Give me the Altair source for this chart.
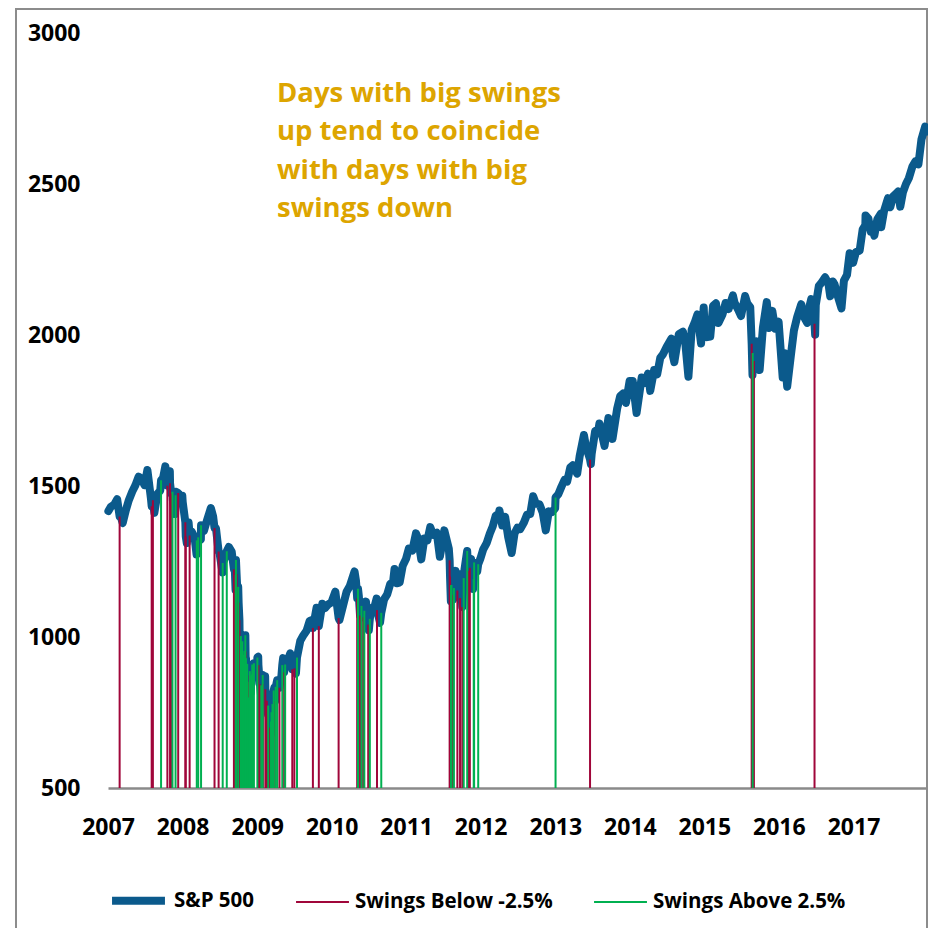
import altair as alt
import pandas as pd

# ---------------- data (read / estimated from the reference) ----------------
sp_dates = [
    "2007-01-03", "2007-01-15", "2007-01-31", "2007-02-15", "2007-02-28", "2007-03-14", "2007-03-30",
    "2007-04-13", "2007-04-30", "2007-05-15", "2007-05-31", "2007-06-14", "2007-06-29", "2007-07-13",
    "2007-07-26", "2007-07-31", "2007-08-16", "2007-08-31", "2007-09-14", "2007-09-28", "2007-10-09",
    "2007-10-31", "2007-11-15", "2007-11-26", "2007-11-30", "2007-12-14", "2007-12-31",
    "2008-01-02", "2008-01-22", "2008-01-31", "2008-02-15", "2008-02-29", "2008-03-10", "2008-03-31",
    "2008-04-15", "2008-04-30", "2008-05-19", "2008-05-30", "2008-06-13", "2008-06-30", "2008-07-15",
    "2008-07-31", "2008-08-15", "2008-08-29", "2008-09-12", "2008-10-10", "2008-10-27", "2008-10-31",
    "2008-11-28", "2008-12-15", "2008-12-31",
    "2009-01-06", "2009-01-15", "2009-01-30", "2009-02-09", "2009-02-27", "2009-03-09", "2009-03-26",
    "2009-03-31", "2009-04-15", "2009-04-30", "2009-05-08", "2009-05-29", "2009-06-12", "2009-06-30",
    "2009-07-10", "2009-07-31", "2009-08-14", "2009-08-31", "2009-09-15", "2009-09-30", "2009-10-19",
    "2009-11-16", "2009-11-30", "2009-12-15", "2009-12-31",
    "2010-01-19", "2010-02-08", "2010-02-26", "2010-03-15", "2010-03-31", "2010-04-23", "2010-04-30",
    "2010-05-14", "2010-05-25", "2010-05-31", "2010-06-18", "2010-07-02", "2010-07-15", "2010-07-30",
    "2010-08-09", "2010-08-26", "2010-09-15", "2010-09-30", "2010-10-15", "2010-10-29", "2010-11-05",
    "2010-11-16", "2010-11-30", "2010-12-15", "2010-12-31",
    "2011-01-14", "2011-01-31", "2011-02-18", "2011-02-28", "2011-03-16", "2011-03-31", "2011-04-15",
    "2011-04-29", "2011-05-13", "2011-05-31", "2011-06-15", "2011-06-30", "2011-07-07", "2011-07-29",
    "2011-08-19", "2011-08-31", "2011-09-15", "2011-09-30", "2011-10-14", "2011-11-15", "2011-11-25",
    "2011-12-15", "2011-12-30",
    "2012-01-13", "2012-01-31", "2012-02-15", "2012-02-29", "2012-03-15", "2012-03-30", "2012-04-02",
    "2012-04-16", "2012-04-30", "2012-05-15", "2012-06-01", "2012-06-15", "2012-06-29", "2012-07-13",
    "2012-07-31", "2012-08-15", "2012-08-31", "2012-09-14", "2012-09-28", "2012-10-15", "2012-10-31",
    "2012-11-15", "2012-11-30", "2012-12-14", "2012-12-31",
    "2013-01-15", "2013-01-31", "2013-02-15", "2013-02-28", "2013-03-15", "2013-03-28", "2013-04-18",
    "2013-04-30", "2013-05-21", "2013-05-31", "2013-06-24", "2013-06-28", "2013-07-15", "2013-07-31",
    "2013-08-05", "2013-08-30", "2013-09-18", "2013-09-30", "2013-10-08", "2013-10-31", "2013-11-15",
    "2013-11-29", "2013-12-13", "2013-12-31",
    "2014-01-15", "2014-02-03", "2014-02-28", "2014-03-14", "2014-03-31", "2014-04-11", "2014-04-30",
    "2014-05-15", "2014-05-30", "2014-06-13", "2014-06-30", "2014-07-24", "2014-07-31", "2014-08-07",
    "2014-08-29", "2014-09-18", "2014-09-30", "2014-10-15", "2014-10-31", "2014-11-14", "2014-11-28",
    "2014-12-16", "2014-12-29", "2014-12-31",
    "2015-01-15", "2015-01-30", "2015-02-13", "2015-02-27", "2015-03-11", "2015-03-31", "2015-04-15",
    "2015-04-30", "2015-05-21", "2015-05-29", "2015-06-15", "2015-06-30", "2015-07-20", "2015-07-31",
    "2015-08-14", "2015-08-25", "2015-08-31", "2015-09-15", "2015-09-29", "2015-10-15", "2015-11-03",
    "2015-11-13", "2015-11-30", "2015-12-14", "2015-12-31",
    "2016-01-20", "2016-01-29", "2016-02-11", "2016-02-29", "2016-03-15", "2016-03-31", "2016-04-20",
    "2016-04-29", "2016-05-19", "2016-05-31", "2016-06-08", "2016-06-27", "2016-06-30", "2016-07-15",
    "2016-07-29", "2016-08-15", "2016-08-31", "2016-09-09", "2016-09-22", "2016-09-30", "2016-10-14",
    "2016-11-03", "2016-11-15", "2016-11-30", "2016-12-13", "2016-12-30",
    "2017-01-13", "2017-01-31", "2017-02-15", "2017-02-28", "2017-03-01", "2017-03-15", "2017-03-27",
    "2017-03-31", "2017-04-13", "2017-04-28", "2017-05-15", "2017-05-17", "2017-05-31", "2017-06-19",
    "2017-06-30", "2017-07-14", "2017-07-31", "2017-08-08", "2017-08-18", "2017-08-31", "2017-09-15",
    "2017-09-29", "2017-10-16", "2017-10-31", "2017-11-15", "2017-11-30", "2017-12-18", "2017-12-29",
]
sp_close = [
    1417, 1431, 1438, 1456, 1407, 1377, 1421, 1453, 1482, 1502, 1531, 1523, 1503, 1553,
    1483, 1455, 1411, 1474, 1485, 1527, 1565, 1549, 1452, 1407, 1481, 1467, 1468,
    1447, 1311, 1379, 1349, 1331, 1273, 1323, 1351, 1386, 1427, 1400, 1360, 1280, 1214,
    1267, 1298, 1283, 1252, 899, 848, 969, 896, 869, 903,
    935, 844, 826, 870, 735, 677, 832, 798, 852, 873, 930, 919, 946, 919,
    879, 987, 1004, 1021, 1053, 1057, 1097, 1110, 1096, 1108, 1115,
    1150, 1056, 1104, 1150, 1169, 1217, 1187, 1136, 1074, 1089, 1117, 1022, 1096, 1101,
    1127, 1047, 1125, 1141, 1176, 1183, 1225, 1178, 1180, 1236, 1258,
    1293, 1286, 1343, 1327, 1257, 1326, 1320, 1364, 1338, 1345, 1266, 1321, 1353, 1292,
    1124, 1219, 1209, 1131, 1225, 1258, 1159, 1216, 1258,
    1289, 1312, 1343, 1366, 1402, 1408, 1419, 1369, 1398, 1331, 1278, 1343, 1362, 1357,
    1379, 1405, 1407, 1466, 1441, 1440, 1412, 1353, 1416, 1413, 1426,
    1472, 1498, 1520, 1515, 1561, 1569, 1541, 1598, 1669, 1631, 1573, 1606, 1682, 1686,
    1707, 1633, 1725, 1682, 1656, 1757, 1798, 1806, 1775, 1848,
    1848, 1742, 1859, 1841, 1872, 1815, 1884, 1870, 1924, 1937, 1960, 1988, 1931, 1910,
    2003, 2011, 1972, 1862, 2018, 2040, 2068, 1972, 2091, 2059,
    1993, 1995, 2097, 2105, 2040, 2068, 2106, 2086, 2131, 2107, 2085, 2063, 2129, 2104,
    2092, 1868, 1972, 1979, 1884, 2024, 2109, 2023, 2080, 2021, 2044,
    1859, 1940, 1829, 1932, 2015, 2060, 2102, 2065, 2040, 2097, 2119, 2001, 2099, 2162,
    2174, 2191, 2171, 2128, 2177, 2168, 2133, 2088, 2180, 2199, 2271, 2239,
    2275, 2279, 2350, 2364, 2396, 2385, 2342, 2363, 2329, 2384, 2402, 2357, 2412, 2453,
    2423, 2459, 2470, 2475, 2425, 2472, 2500, 2519, 2557, 2575, 2565, 2648, 2690, 2674,
]

down_dates = [
    "2007-02-27", "2007-08-03", "2007-08-09", "2007-10-19", "2007-11-01", "2007-11-07", "2007-12-11",
    "2008-01-15", "2008-01-17", "2008-02-05", "2008-06-06", "2008-06-26", "2008-09-09", "2008-09-15",
    "2008-09-17", "2008-09-22", "2008-09-29", "2008-10-02", "2008-10-06", "2008-10-07", "2008-10-09",
    "2008-10-15", "2008-10-22", "2008-10-24", "2008-11-05", "2008-11-06", "2008-11-12", "2008-11-14",
    "2008-11-17", "2008-11-19", "2008-11-20", "2008-12-01", "2008-12-04", "2008-12-11",
    "2009-01-07", "2009-01-14", "2009-01-20", "2009-01-29", "2009-02-10", "2009-02-17", "2009-02-23",
    "2009-03-02", "2009-03-05", "2009-03-30", "2009-04-20", "2009-05-13", "2009-06-22", "2009-07-02",
    "2009-10-01", "2009-10-30",
    "2010-02-04", "2010-05-06", "2010-05-20", "2010-06-04", "2010-06-29", "2010-08-11",
    "2011-08-02", "2011-08-04", "2011-08-08", "2011-08-10", "2011-08-18", "2011-09-09", "2011-09-22",
    "2011-10-03", "2011-11-01", "2011-11-09",
    "2013-06-20", "2015-08-21", "2015-08-24", "2015-09-01", "2016-06-24",
]
down_close = [
    1399, 1433, 1453, 1501, 1509, 1475, 1477,
    1380, 1333, 1336, 1361, 1283, 1224, 1193,
    1156, 1208, 1106, 1114, 1056, 996, 910,
    908, 896, 877, 952, 904, 853, 873,
    850, 807, 752, 816, 845, 873,
    907, 843, 805, 845, 827, 789, 743,
    700, 683, 788, 832, 883, 893, 896,
    1030, 1036,
    1063, 1128, 1071, 1065, 1041, 1089,
    1254, 1200, 1119, 1121, 1140, 1154, 1129,
    1099, 1219, 1229,
    1588, 1971, 1893, 1914, 2037,
]

up_dates = [
    "2007-09-18", "2007-11-13", "2007-11-28", "2008-03-11", "2008-03-18", "2008-04-01", "2008-07-16",
    "2008-08-05", "2008-09-18", "2008-09-19", "2008-09-30", "2008-10-13", "2008-10-16", "2008-10-20",
    "2008-10-28", "2008-10-30", "2008-11-04", "2008-11-07", "2008-11-13", "2008-11-21", "2008-11-24",
    "2008-11-26", "2008-12-02", "2008-12-03", "2008-12-05", "2008-12-08", "2008-12-16",
    "2009-01-02", "2009-01-21", "2009-01-28", "2009-02-24", "2009-03-10", "2009-03-12", "2009-03-17",
    "2009-03-23", "2009-04-02", "2009-04-09", "2009-05-04", "2009-05-18", "2009-07-15",
    "2010-05-10", "2010-05-27", "2010-06-10", "2010-07-07", "2010-09-01",
    "2011-08-09", "2011-08-11", "2011-08-23", "2011-10-10", "2011-10-27", "2011-11-28", "2011-11-30",
    "2011-12-20", "2013-01-02", "2015-08-26",
]
up_close = [
    1519, 1481, 1469, 1320, 1330, 1370, 1245,
    1284, 1206, 1255, 1166, 1003, 946, 986,
    941, 954, 1006, 930, 911, 800, 852,
    887, 849, 871, 876, 909, 913,
    932, 840, 874, 773, 720, 751, 778,
    823, 835, 857, 907, 909, 932,
    1160, 1103, 1087, 1060, 1080,
    1172, 1172, 1162, 1195, 1285, 1192, 1247,
    1241, 1462, 1940,
]

year_ticks = list(range(2007, 2018))
y_ticks = [500, 1000, 1500, 2000, 2500, 3000]
series_names = ["S&P 500", "Swings Below -2.5%", "Swings Above 2.5%"]
series_colors = ["#0B5A8C", "#A0063A", "#00B050"]
series_widths = [8, 2, 2]
note_lines = ["Days with big swings", "up tend to coincide", "with days with big", "swings down"]
baseline_value = 500

# ---------------- tables ----------------
line_df = pd.DataFrame({
    "date": sp_dates + down_dates + up_dates,
    "close": sp_close + down_close + up_close,
})
line_df["date"] = pd.to_datetime(line_df["date"])
line_df = line_df.sort_values("date").drop_duplicates("date").reset_index(drop=True)
line_df["date"] = line_df["date"].dt.strftime("%Y-%m-%d")
line_df["series"] = series_names[0]

swing_df = pd.concat([
    pd.DataFrame({"date": down_dates, "close": down_close, "series": series_names[1]}),
    pd.DataFrame({"date": up_dates, "close": up_close, "series": series_names[2]}),
], ignore_index=True)
swing_df["base"] = baseline_value

FONT = "Open Sans"

x_enc = alt.X(
    "date:T",
    title=None,
    scale=alt.Scale(domain=[alt.DateTime(year=2007, month=1, date=1),
                            alt.DateTime(year=2018, month=1, date=1)]),
    axis=alt.Axis(
        values=[alt.DateTime(year=y, month=1, date=1) for y in year_ticks],
        format="%Y", grid=False, ticks=False, tickSize=0,
        domainColor="#8a8a8a", domainWidth=2.5,
        labelFont=FONT, labelFontSize=23, labelFontWeight="bold", labelColor="#000000",
        labelPadding=28, labelAlign="center", labelFlush=False, labelOverlap=False,
    ),
)
y_enc = alt.Y(
    "close:Q",
    title=None,
    scale=alt.Scale(domain=[500, 3000], nice=False, zero=False),
    axis=alt.Axis(
        values=y_ticks, format="d", grid=False, ticks=False, tickSize=0, domain=False,
        labelFont=FONT, labelFontSize=23, labelFontWeight="bold", labelColor="#000000",
        labelPadding=28, labelAlign="right", labelBaseline="middle", labelFlush=False,
    ),
)

legend = alt.Legend(
    title=None, orient="none", legendX=0, legendY=837, direction="horizontal",
    symbolType="stroke", symbolSize=2800, labelFont=FONT, labelFontSize=20.5,
    labelFontWeight="bold", labelColor="#000000", labelOffset=5, labelLimit=400,
    columnPadding=37, padding=0,
)
color_enc = alt.Color("series:N", title=None,
                      scale=alt.Scale(domain=series_names, range=series_colors),
                      legend=legend)
width_enc = alt.StrokeWidth("series:N", title=None,
                            scale=alt.Scale(type="ordinal", domain=series_names, range=series_widths),
                            legend=legend)

frame = alt.Chart(alt.Data(values=[{"k": 1}])).mark_rect(
    fillOpacity=0, stroke="#8c8c8c", strokeWidth=2
).encode(
    x=alt.value(-92), x2=alt.value(819), y=alt.value(-24), y2=alt.value(930)
)

line = alt.Chart(line_df).mark_line(strokeCap="round", strokeJoin="round").encode(
    x=x_enc, y=y_enc, color=color_enc, strokeWidth=width_enc,
)

rules = alt.Chart(swing_df).mark_rule().encode(
    x=x_enc, y=y_enc, y2="base:Q", color=color_enc, strokeWidth=width_enc,
)

note = alt.Chart(alt.Data(values=[{"k": 1}])).mark_text(
    align="left", baseline="top", font=FONT, fontSize=27.5, fontWeight="bold",
    color="#DDA500", lineHeight=38.5,
).encode(
    x=alt.X(datum=alt.DateTime(year=2009, month=4, date=8), type="temporal"),
    y=alt.Y(datum=2845, type="quantitative"),
    text=alt.value(note_lines),
)

chart = alt.layer(frame, line, rules, note).properties(
    width=820, height=755,
    padding={"left": 100, "top": 25, "right": 0, "bottom": 140},
    autosize=alt.AutoSizeParams(type="none"),
).configure_view(stroke="transparent")

chart.save("out.html", embed_options={"renderer": "svg", "actions": False})
